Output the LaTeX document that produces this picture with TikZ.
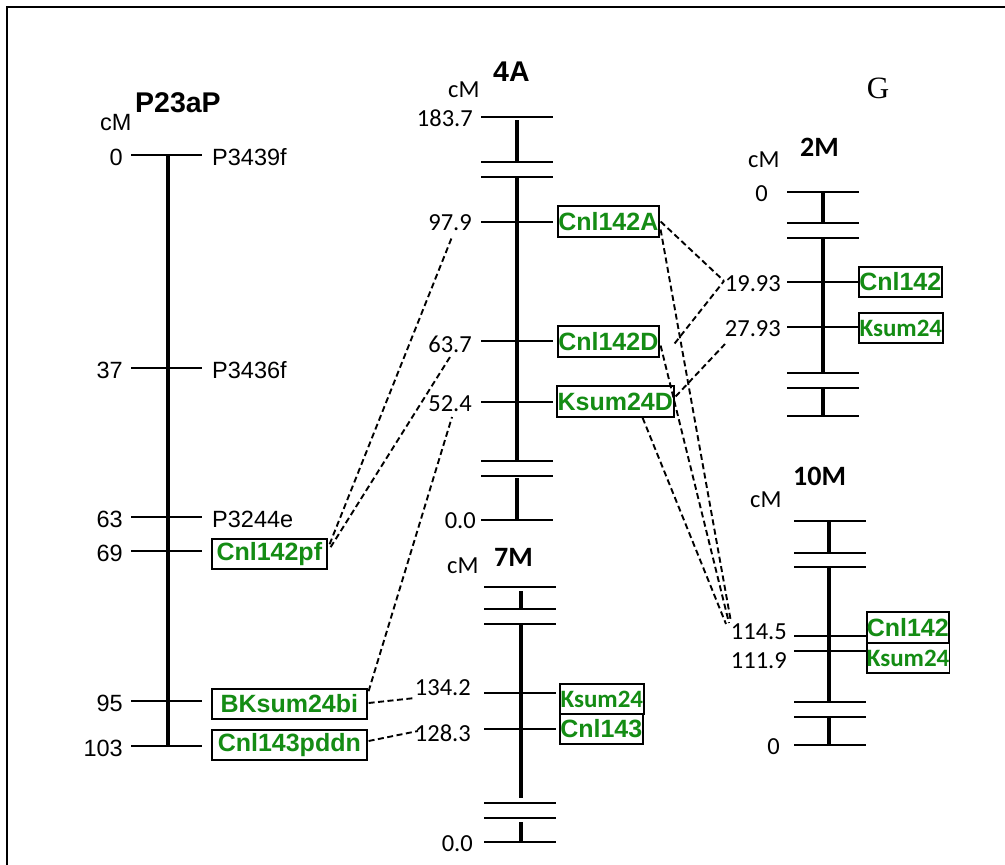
\documentclass[tikz,border=0pt]{standalone}
\usepackage{fontspec}
\setmainfont{Liberation Sans}
\newfontfamily\calfont{Carlito}
\newfontfamily\tmsfont{Liberation Serif}
\usetikzlibrary{calc}
\definecolor{mygreen}{RGB}{20,140,20}
\begin{document}
\begin{tikzpicture}[x=1pt,y=-1pt,
  ar/.style={font=\fontsize{23.5}{23.5}\selectfont, inner sep=0pt},
  cb/.style={font=\calfont\fontsize{24.5}{24.5}\selectfont, inner sep=0pt},
  ttl/.style={font=\bfseries\fontsize{28.5}{28.5}\selectfont, inner sep=0pt, anchor=base west},
  cttl/.style={font=\calfont\bfseries\fontsize{28}{28}\selectfont, inner sep=0pt, anchor=base west},
  mbox/.style={draw, line width=1.6pt, text=mygreen, font=\bfseries\fontsize{25}{25}\selectfont, minimum height=30pt, inner sep=0pt, anchor=west},
  cmbox/.style={mbox, font=\calfont\bfseries\fontsize{25}{25}\selectfont},
  chrom/.style={line width=3.6pt},
  tickl/.style={line width=2pt},
  link/.style={line width=1.9pt, dash pattern=on 6pt off 3.5pt}]
\useasboundingbox (0,0) rectangle (1005,865);
\fill[white] (0,0) rectangle (1005,865);
\draw[line width=2pt] (7,865) -- (7,7) -- (1005,7);

% ---------- P23aP ----------
\node[ar, anchor=base west] (pcm) at (100,130) {cM};
\node[ttl] (ptitle) at (135,112) {P23aP};
\draw[chrom] (168,155) -- (168,746);
\foreach \y in {155,368,517,551,701,746} \draw[tickl] (131,\y) -- (202,\y);
\node[ar, anchor=east] (p0) at (123,157) {0};
\node[ar, anchor=east] (p37) at (123,370) {37};
\node[ar, anchor=east] (p63) at (123,519) {63};
\node[ar, anchor=east] (p69) at (123,553) {69};
\node[ar, anchor=east] (p95) at (123,703) {95};
\node[ar, anchor=east] (p103) at (123,748) {103};
\node[ar, anchor=west] (m1) at (212,157) {P3439f};
\node[ar, anchor=west] (m2) at (212,370) {P3436f};
\node[ar, anchor=west] (m3) at (212,519) {P3244e};
\node[mbox, minimum width=115pt] (pf) at (211,554) {Cnl142pf};
\node[mbox, minimum width=155pt] (bk) at (211,704) {BKsum24bi};
\node[mbox, minimum width=155pt] (pddn) at (211,745) {Cnl143pddn};

% ---------- 4A ----------
\node[cb, anchor=base west] (acm) at (448,97) {cM};
\node[ttl] (atitle) at (493,81) {4A};
\draw[chrom] (517,120) -- (517,162);
\draw[chrom] (517,177) -- (517,461);
\draw[chrom] (517,478) -- (517,520);
\foreach \y in {117,162,177,222,341,402,461,476,520} \draw[tickl] (481,\y) -- (553,\y);
\node[cb, anchor=east] (a1837) at (473,118) {183.7};
\node[cb, anchor=east] (a979) at (472,223) {97.9};
\node[cb, anchor=east] (a637) at (472,344) {63.7};
\node[cb, anchor=east] (a524) at (472,404) {52.4};
\node[cb, anchor=east] (a00) at (476,521) {0.0};
\node[mbox, minimum width=101pt, minimum height=31pt] (A) at (557,221.5) {Cnl142A};
\node[mbox, minimum width=101pt, minimum height=31pt] (D) at (557,341.5) {Cnl142D};
\node[mbox, minimum width=117pt, minimum height=31pt] (K) at (556,401.5) {Ksum24D};

% ---------- 7M ----------
\node[cb, anchor=base west] (scm) at (447,573) {cM};
\node[cttl] (stitle) at (494,566) {7M};
\draw[chrom] (521,591) -- (521,609);
\draw[chrom] (521,624) -- (521,798);
\draw[chrom] (521,822) -- (521,842);
\foreach \y in {587,609,624,693,729,803,818,842} \draw[tickl] (484,\y) -- (556,\y);
\node[cb, anchor=east] (s1342) at (471,688) {134.2};
\node[cb, anchor=east] (s1283) at (471,733) {128.3};
\node[cb, anchor=east] (s00) at (473,844) {0.0};
\node[cmbox, minimum width=84pt] (sk) at (559,699) {\raisebox{-3pt}{Ksum24}};
\node[mbox, minimum width=83pt] (sc) at (559,729) {Cnl143};

% ---------- 2M ----------
\node[cb, anchor=base west] (tcm) at (748,167) {cM};
\node[cttl] (ttitle) at (800,156) {2M};
\draw[chrom] (823,192) -- (823,223);
\draw[chrom] (823,238) -- (823,373);
\draw[chrom] (823,388) -- (823,416);
\foreach \y in {192,223,238,282,327,373,388,416} \draw[tickl] (787,\y) -- (859,\y);
\node[cb, anchor=east] (t0) at (768,194) {0};
\node[cb, anchor=east] (t1993) at (781,284) {19.93};
\node[cb, anchor=east] (t2793) at (781,329) {27.93};
\node[mbox, minimum width=83pt] (tc) at (858,282) {Cnl142};
\node[cmbox, minimum width=84pt] (tk) at (858,328) {Ksum24};

% ---------- 10M ----------
\node[cb, anchor=base west] (ucm) at (750,507) {cM};
\node[cttl] (utitle) at (793,485) {10M};
\draw[chrom] (829,521) -- (829,553);
\draw[chrom] (829,567) -- (829,702);
\draw[chrom] (829,717) -- (829,745);
\foreach \y in {521,553,567,636,651,702,717,745} \draw[tickl] (794,\y) -- (866,\y);
\node[cb, anchor=east] (u1145) at (787,632) {114.5};
\node[cb, anchor=east] (u1119) at (787,661) {111.9};
\node[cb, anchor=east] (u0) at (780,747) {0};
\node[mbox, minimum width=82pt, minimum height=31pt] (uc) at (866,627.5) {Cnl142};
\node[cmbox, minimum width=82pt] (uk) at (866,658) {Ksum24};

% ---------- G ----------
\node[font=\tmsfont\fontsize{31}{31}\selectfont, inner sep=0pt] (G) at (878,88) {G};

% ---------- connectors ----------
\coordinate (c979) at (452,237);
\coordinate (c637) at (450,357);
\coordinate (c524) at (452,417);
\coordinate (c1342) at (415,698);
\coordinate (c1283) at (418,731);
\coordinate (c1993) at (724,281);
\coordinate (c2793) at (725,344);
\coordinate (c1145a) at (731,622);
\coordinate (c1145b) at (729,623);
\coordinate (c1145c) at (726,624);

\draw[link] ($(pf.north east)+(2,6)$) -- (c979);
\draw[link] ($(pf.north east)+(3,9)$) -- (c637);
\draw[link] ($(bk.north east)+(1,3)$) -- (c524);
\draw[link] ($(bk.east)+(1,-1)$) -- (c1342);
\draw[link] ($(pddn.east)+(1,-4)$) -- (c1283);
\draw[link] ($(A.east)+(1,0)$) -- (c1993);
\draw[link] ($(D.east)+(15,2)$) -- (c1993);
\draw[link] ($(K.east)+(1,-5)$) -- (c2793);
\draw[link] ($(A.east)+(1,8)$) -- (c1145a);
\draw[link] ($(D.east)+(1,4)$) -- (c1145b);
\draw[link] ($(K.south east)+(-32,0)$) -- (c1145c);
\end{tikzpicture}
\end{document}
